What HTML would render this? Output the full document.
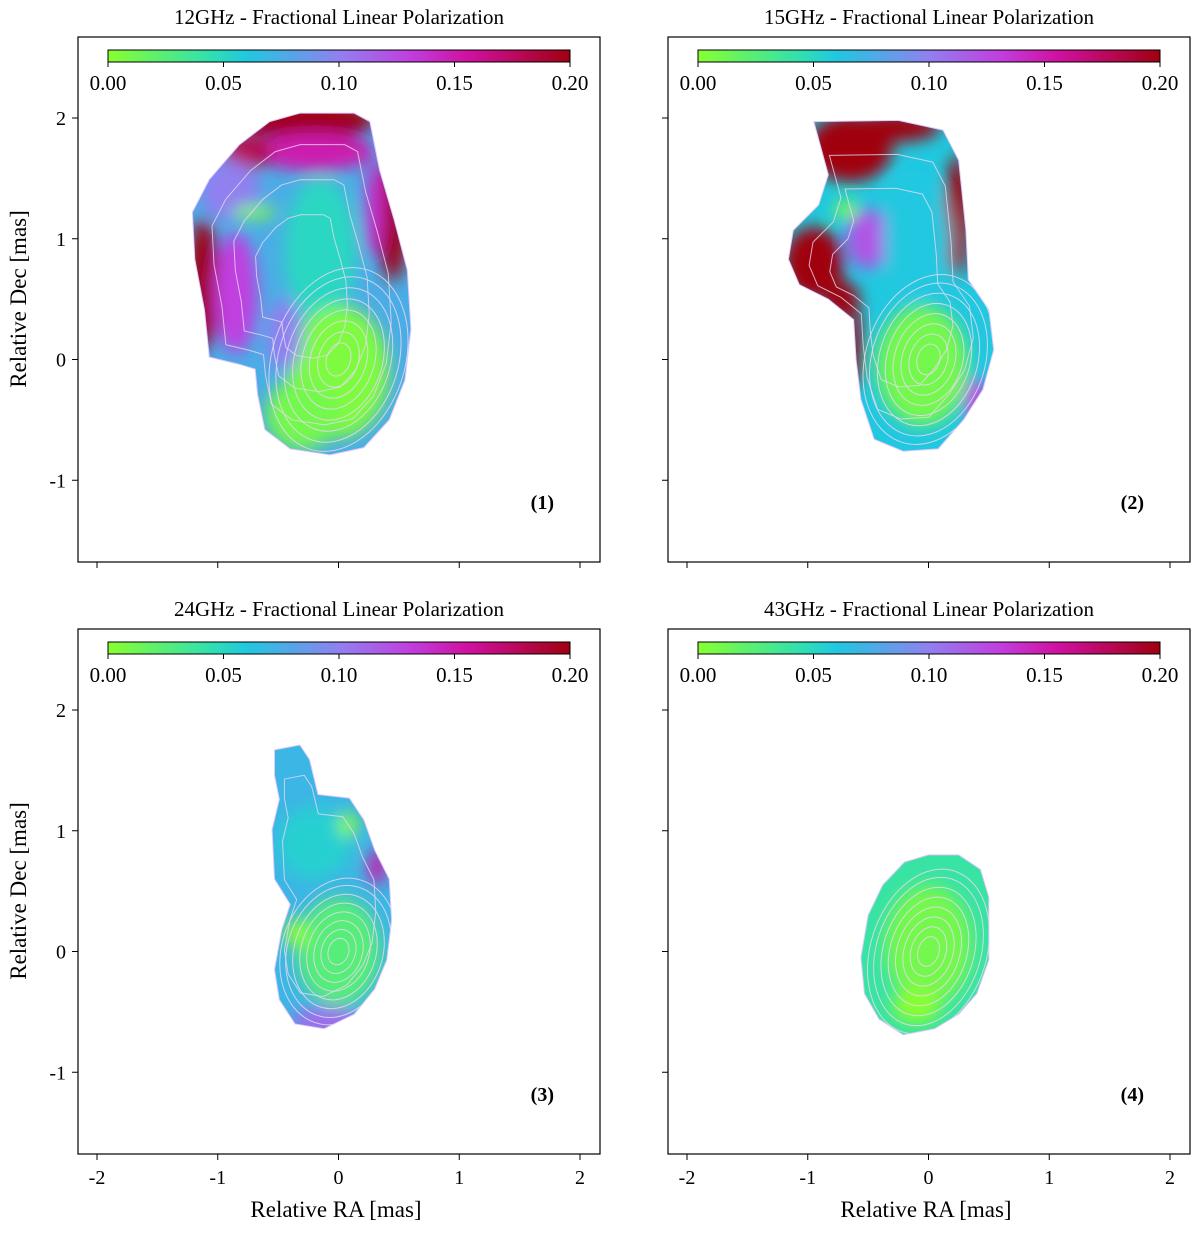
<!DOCTYPE html>
<html><head><meta charset="utf-8"><style>
body{margin:0;background:#fff;}
svg{display:block;font-family:"Liberation Serif",serif;}
</style></head><body>
<svg id="fig" width="1200" height="1234" viewBox="0 0 1200 1234" xmlns="http://www.w3.org/2000/svg">
<defs>
<linearGradient id="cmap" x1="0" x2="1" y1="0" y2="0">
<stop offset="0" stop-color="#88ff30"/><stop offset="0.22" stop-color="#30e0b0"/><stop offset="0.3" stop-color="#20c8e0"/>
<stop offset="0.5" stop-color="#9080f0"/><stop offset="0.65" stop-color="#c040e0"/><stop offset="0.78" stop-color="#d010a0"/><stop offset="1" stop-color="#a00010"/>
</linearGradient>
<filter id="blur" x="-50%" y="-50%" width="200%" height="200%"><feGaussianBlur stdDeviation="8"/></filter>
</defs>
</svg>
<script>
const NS="http://www.w3.org/2000/svg";
const svg=document.getElementById('fig');
const xTicks=[-2,-1,0,1,2];
const yTicks=[-1,0,1,2];
const cbTicks=[0.00,0.05,0.10,0.15,0.20];
const titles=["12GHz - Fractional Linear Polarization","15GHz - Fractional Linear Polarization","24GHz - Fractional Linear Polarization","43GHz - Fractional Linear Polarization"];
const panelLabels=["(1)","(2)","(3)","(4)"];
// source outlines in mas (RA, Dec)
const outline1=[[-0.32,2.04],[0.13,2.04],[0.26,1.97],[0.34,1.57],[0.46,1.16],[0.57,0.74],[0.6,0.25],[0.55,-0.17],[0.42,-0.5],[0.21,-0.73],[-0.07,-0.79],[-0.4,-0.74],[-0.61,-0.58],[-0.67,-0.29],[-0.69,-0.08],[-0.82,-0.04],[-1.07,0.02],[-1.11,0.41],[-1.19,0.83],[-1.21,1.22],[-1.07,1.49],[-0.82,1.78],[-0.57,1.97]];
const outline2=[[-0.95,1.97],[-0.25,1.98],[0.12,1.9],[0.25,1.65],[0.31,1.07],[0.33,0.66],[0.5,0.41],[0.54,0.08],[0.45,-0.25],[0.29,-0.5],[0.08,-0.74],[-0.21,-0.76],[-0.45,-0.66],[-0.56,-0.33],[-0.6,0],[-0.62,0.33],[-0.83,0.5],[-1.07,0.62],[-1.16,0.83],[-1.12,1.07],[-0.91,1.28],[-0.83,1.53]];
const outline3=[[-0.53,1.67],[-0.32,1.71],[-0.24,1.59],[-0.17,1.3],[0.09,1.27],[0.21,1.09],[0.3,0.84],[0.42,0.6],[0.44,0.26],[0.4,-0.07],[0.3,-0.31],[0.13,-0.52],[-0.12,-0.64],[-0.36,-0.6],[-0.49,-0.4],[-0.53,-0.15],[-0.47,0.18],[-0.4,0.39],[-0.53,0.6],[-0.55,1.01],[-0.49,1.26],[-0.53,1.46]];
const outline4=[[-0.2,0.74],[0.0,0.8],[0.25,0.8],[0.43,0.68],[0.5,0.45],[0.5,-0.07],[0.4,-0.35],[0.25,-0.52],[0.05,-0.64],[-0.21,-0.69],[-0.41,-0.56],[-0.53,-0.35],[-0.56,-0.05],[-0.5,0.3],[-0.38,0.55]];
// colour blobs: [RA, Dec, radiusRA, radiusDec, fractional pol]
const blobs1=[[-0.25,1.98,0.55,0.16,0.2],[-0.2,1.72,0.5,0.16,0.15],[-0.75,1.72,0.2,0.15,0.18],[-1.12,0.62,0.13,0.55,0.2],[0.45,1.15,0.12,0.5,0.2],[0.3,1.25,0.08,0.4,0.14],[-0.85,0.55,0.18,0.5,0.13],[-0.9,1.4,0.25,0.25,0.1],[-0.15,0.9,0.3,0.6,0.05],[-0.7,1.22,0.18,0.05,0.0],[0.0,-0.1,0.42,0.55,0.005],[-0.3,-0.45,0.3,0.3,0.01],[-0.45,0.2,0.15,0.3,0.1]];
const blobs2=[[-0.65,1.75,0.35,0.28,0.2],[-0.3,1.92,0.4,0.12,0.2],[-0.95,0.8,0.25,0.3,0.2],[-0.72,0.5,0.15,0.15,0.2],[-0.62,0.1,0.07,0.35,0.2],[0.24,1.2,0.1,0.5,0.2],[-0.5,1.0,0.18,0.25,0.12],[0.4,-0.35,0.1,0.2,0.13],[-0.1,1.0,0.28,0.5,0.06],[-0.68,1.24,0.1,0.07,0.0],[-0.05,-0.05,0.38,0.5,0.01]];
const blobs3=[[-0.2,0.9,0.3,0.3,0.055],[0.0,0.0,0.35,0.45,0.025],[0.08,1.05,0.08,0.1,0.0],[-0.1,-0.58,0.3,0.12,0.11],[0.32,0.7,0.08,0.15,0.15],[-0.35,0.15,0.1,0.12,0.0]];
const blobs4=[[0,0.05,0.36,0.5,0.01],[-0.1,-0.45,0.2,0.15,0.0]];
const base=[0.075,0.06,0.07,0.04];
// contour levels (fractions of core ellipse size)
const levels=[0.18,0.3,0.42,0.54,0.66,0.78,0.9,1.0];
const coreSize=[[0.55,0.78],[0.52,0.72],[0.47,0.62],[0.48,0.7]];
const outerScales=[[0.82,0.62,0.42],[0.8,0.6],[0.78],[]];
const outlines=[outline1,outline2,outline3,outline4];
const blobsAll=[blobs1,blobs2,blobs3,blobs4];
const panels=[{x0:78,y0:37},{x0:668,y0:37},{x0:78,y0:629},{x0:668,y0:629}];
const W=522,H=525,S=120.75;

function cmap(v){
 const st=[[0,[136,255,48]],[0.044,[48,224,176]],[0.06,[32,200,224]],[0.1,[144,128,240]],[0.13,[192,64,224]],[0.156,[208,16,160]],[0.2,[160,0,16]]];
 v=Math.max(0,Math.min(0.2,v));
 for(let i=1;i<st.length;i++){if(v<=st[i][0]){const a=st[i-1],b=st[i],t=(v-a[0])/(b[0]-a[0]);
 const c=a[1].map((q,k)=>Math.round(q+(b[1][k]-q)*t));return `rgb(${c})`;}}
 return 'rgb(160,0,16)';
}
function el(tag,attrs,parent,name,inter){const e=document.createElementNS(NS,tag);for(const k in attrs)e.setAttribute(k,attrs[k]);
 
 
 (parent||svg).appendChild(e);return e;}

panels.forEach((p,i)=>{
 const sx=v=>p.x0+19+(v+2)*S;
 const sy=v=>p.y0+81+(2-v)*S;
 const g=el('g',{},svg,'panel-'+(i+1),false);
 const pts=outlines[i].map(q=>sx(q[0])+','+sy(q[1])).join(' ');
 const cp=el('clipPath',{id:'clip'+i},g,'source-clip',false);
 el('polygon',{points:pts},cp,'clip-shape',false);
 const img=el('g',{'clip-path':`url(#clip${i})`},g,'polarization-map',false);
 el('polygon',{points:pts,fill:cmap(base[i])},img,'map-base',false);
 const bg=el('g',{filter:'url(#blur)'},img,'map-blobs',false);
 blobsAll[i].forEach((b,j)=>{
  el('ellipse',{cx:sx(b[0]),cy:sy(b[1]),rx:b[2]*S,ry:b[3]*S,fill:cmap(b[4])},bg,'pol-blob-'+j,false);
 });
 const cx=outlines[i].reduce((a,q)=>a+q[0],0)/outlines[i].length, cy=outlines[i].reduce((a,q)=>a+q[1],0)/outlines[i].length;
 el('polygon',{points:pts,fill:'none',stroke:'#e0c8ff','stroke-width':1},g,'outer-contour',false);
 const cg=el('g',{'clip-path':`url(#clip${i})`},g,'contours',false);
 outerScales[i].forEach((s,j)=>{
  const ps=outlines[i].map(q=>sx(cx+(q[0]-cx)*s)+','+sy(cy+(q[1]-cy)*s)).join(' ');
  el('polygon',{points:ps,fill:'none',stroke:'#e8d8f0','stroke-width':1,'stroke-opacity':0.8},cg,'contour-outer-'+j,false);
 });
 levels.forEach((l,j)=>{
  el('ellipse',{cx:sx(0),cy:sy(0),rx:coreSize[i][0]*l*S,ry:coreSize[i][1]*l*S,fill:'none',stroke:'#e8d8f0','stroke-width':1,'stroke-opacity':0.85,transform:`rotate(18 ${sx(0)} ${sy(0)})`},cg,'contour-level-'+j,false);
 });
 el('rect',{x:p.x0,y:p.y0,width:W,height:H,fill:'none',stroke:'#000','stroke-width':1.2},g,'axes-frame',false);
 xTicks.forEach(t=>{
  el('line',{x1:sx(t),x2:sx(t),y1:p.y0+H,y2:p.y0+H+6,stroke:'#000'},g,'x-tick',false);
  if(i>=2){const tx=el('text',{x:sx(t),y:p.y0+H+30,'font-size':20,'text-anchor':'middle'},g,'x-tick-label',false);tx.textContent=t;}
 });
 yTicks.forEach(t=>{
  el('line',{x1:p.x0-6,x2:p.x0,y1:sy(t),y2:sy(t),stroke:'#000'},g,'y-tick',false);
  if(i%2==0){const tx=el('text',{x:p.x0-12,y:sy(t)+7,'font-size':20,'text-anchor':'end'},g,'y-tick-label',false);tx.textContent=t;}
 });
 const ti=el('text',{x:p.x0+W/2,y:p.y0-13,'font-size':21,'text-anchor':'middle'},g,'panel-title',false);ti.textContent=titles[i];
 const pl=el('text',{x:p.x0+476,y:p.y0+472,'font-size':20,'font-weight':'bold','text-anchor':'end'},g,'panel-label',false);pl.textContent=panelLabels[i];
 const cbx=v=>p.x0+30+v/0.2*462;
 el('rect',{x:cbx(0),y:p.y0+13,width:462,height:12,fill:'url(#cmap)',stroke:'#000','stroke-width':1},g,'colorbar',false);
 cbTicks.forEach(t=>{
  el('line',{x1:cbx(t),x2:cbx(t),y1:p.y0+25,y2:p.y0+30,stroke:'#000'},g,'colorbar-tick',false);
  const tx=el('text',{x:cbx(t),y:p.y0+53,'font-size':21,'text-anchor':'middle'},g,'colorbar-tick-label',false);tx.textContent=t.toFixed(2);
 });
 if(i>=2){const xl=el('text',{x:p.x0+W/2-3,y:p.y0+H+63,'font-size':23,'text-anchor':'middle'},g,'x-axis-title',false);xl.textContent='Relative RA [mas]';}
 if(i%2==0){const cyy=p.y0+262;const yl=el('text',{x:26,y:cyy,'font-size':23,'text-anchor':'middle',transform:`rotate(-90 26 ${cyy})`},g,'y-axis-title',false);yl.textContent='Relative Dec [mas]';}
});
</script>
</body></html>
